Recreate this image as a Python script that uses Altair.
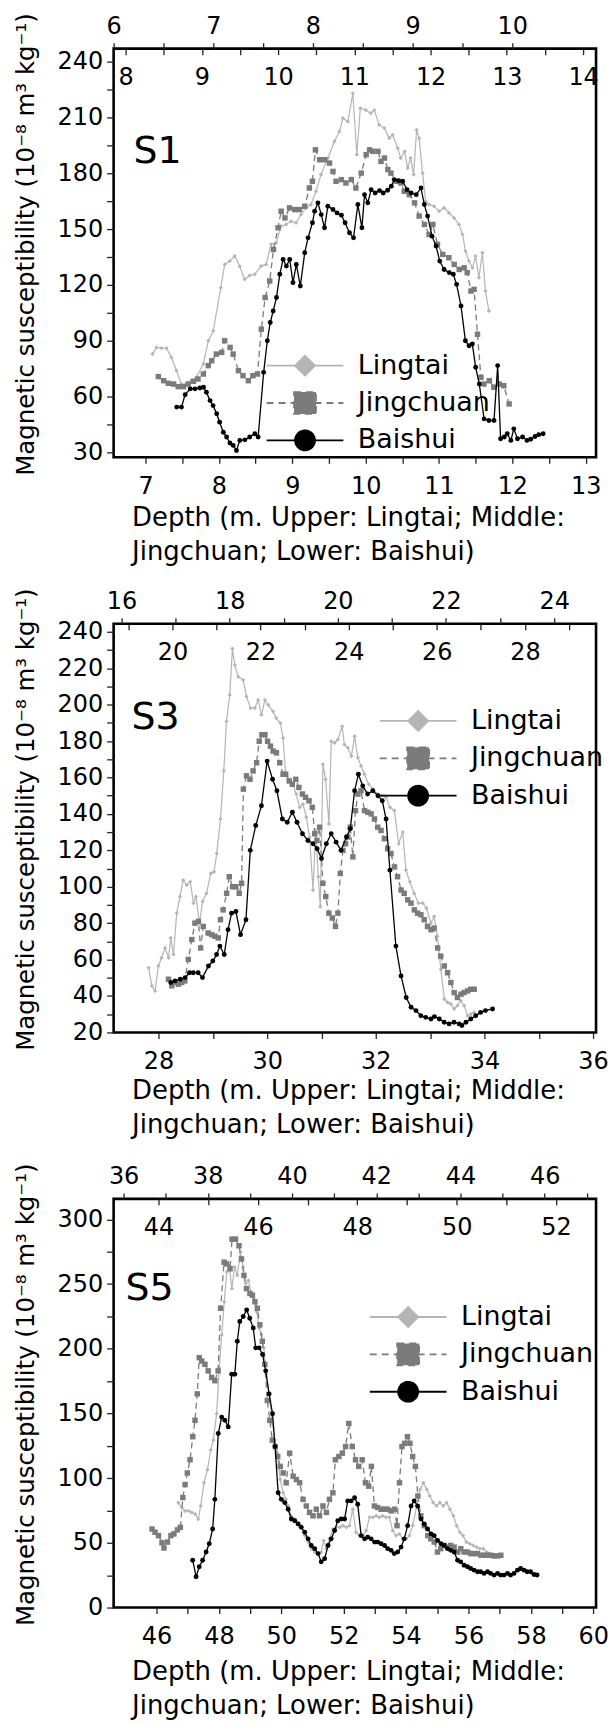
import altair as alt
import pandas as pd

FONT = "DejaVu Sans"
SERIES = ["Lingtai", "Jingchuan", "Baishui"]
COLORS = ["#b5b5b5", "#7b7b7b", "#000000"]
YTITLE = "Magnetic susceptibility (10\u207b\u2078 m\u00b3 kg\u207b\u00b9)"
XTITLE = ["Depth (m. Upper: Lingtai; Middle:", "Jingchuan; Lower: Baishui)"]

# ---------------- S1 ----------------
s1_lingtai_depth = [6.39,6.43,6.48,6.53,6.58,6.63,6.68,6.73,6.78,6.83,6.90,6.95,7.00,7.075,7.115,7.165,7.215,7.265,7.315,7.365,7.415,7.48,7.53,7.58,7.63,7.68,7.73,7.78,7.83,7.88,7.93,7.98,8.03,8.08,8.15,8.215,8.265,8.30,8.35,8.40,8.44,8.475,8.53,8.58,8.615,8.665,8.715,8.765,8.80,8.85,8.88,8.92,8.95,8.98,9.01,9.04,9.065,9.10,9.13,9.165,9.215,9.265,9.315,9.365,9.415,9.465,9.50,9.53,9.565,9.60,9.63,9.665,9.70,9.73,9.765]
s1_lingtai_chi = [82.8,86.4,86,86,81,74,66.7,66.7,68.5,70.3,77.5,90,95.3,118.5,131,132.8,135.5,130,123,125,125.7,130.1,131,141.8,142.6,151.6,152.5,154.2,153.4,157.8,161.4,163.2,170.3,179.3,188.2,197.1,202.5,209.6,207.8,223,190,215,214,212.3,214,206,204.3,198.9,200.7,193.5,188.2,191.8,182.8,188.2,179.3,203.4,198.9,180.1,165,163.2,162.3,159.6,161.4,158.7,156,152.5,147.1,138.2,132.8,129.2,135.5,123.9,137.3,116.7,106]
s1_jingchuan_depth = [8.43,8.50,8.56,8.63,8.69,8.76,8.82,8.89,8.95,9.02,9.085,9.13,9.19,9.26,9.30,9.37,9.41,9.48,9.54,9.61,9.67,9.73,9.78,9.83,9.89,9.94,10.0,10.04,10.09,10.15,10.22,10.28,10.35,10.41,10.45,10.49,10.545,10.61,10.675,10.72,10.76,10.83,10.89,10.96,11.02,11.09,11.155,11.2,11.24,11.31,11.35,11.395,11.44,11.48,11.55,11.61,11.655,11.72,11.79,11.85,11.92,11.98,12.03,12.09,12.16,12.24,12.31,12.375,12.44,12.48,12.53,12.57,12.615,12.66,12.70,12.77,12.83,12.90,12.96,13.03]
s1_jingchuan_chi = [70.7,68.5,67.1,66.7,65.3,65.3,66.7,68.2,69.4,72.1,76.6,79.2,82.8,83.7,90,86.4,82.8,73.9,71.2,68.5,71.2,72.1,96.2,113.2,122.1,139.1,150.7,159.6,156,161.4,160.5,160.5,162.3,172.1,175.7,192.6,187.3,187.3,185.5,181,175.7,176.6,174.8,176.6,172.1,180.1,190,192.6,191.8,191.8,186.4,188.2,182,180.1,175.7,174.8,170.3,168.5,164.1,157,152.5,147.1,152.5,141.8,136.4,134.6,131,128.3,129.2,126.6,116.7,117.6,93.5,70.3,66.7,68.5,65,66.7,65.8,56]
s1_baishui_depth = [7.425,7.49,7.54,7.61,7.675,7.74,7.79,7.83,7.88,7.92,7.97,8.01,8.06,8.105,8.15,8.195,8.24,8.285,8.355,8.42,8.49,8.535,8.61,8.66,8.70,8.74,8.785,8.83,8.875,8.92,8.965,9.01,9.055,9.11,9.17,9.215,9.275,9.305,9.35,9.395,9.44,9.485,9.555,9.61,9.67,9.72,9.78,9.835,9.894,9.95,9.985,10.03,10.075,10.13,10.19,10.24,10.30,10.35,10.39,10.45,10.505,10.565,10.62,10.69,10.755,10.80,10.845,10.905,10.96,11.01,11.07,11.14,11.195,11.24,11.30,11.36,11.41,11.455,11.50,11.55,11.615,11.68,11.75,11.80,11.84,11.89,11.93,11.98,12.02,12.07,12.14,12.2,12.25,12.31,12.36,12.42]
s1_baishui_chi = [54.3,54.3,61,64.1,64.1,64.6,65,62.3,57.8,55.1,50.7,46.2,40.8,38.2,35,33.7,31,36.4,36.7,38.2,40,38.2,73,90,99.8,106,113.2,125.7,133.7,130.1,133.7,121.2,131,119.4,137.3,145.3,153.4,159.6,164.1,157.8,150.7,162.3,160.5,158.7,157.5,153.4,148,145.3,163.2,150.7,168.5,164.1,171.2,169.4,170.7,169.4,170.9,173,176.6,176,175.7,171.2,169.4,168.5,172.1,163.2,157,146.2,140.9,132.8,128.3,126.6,125.7,120.3,108.7,90,87.3,88.2,75.7,66.7,48,47.1,47.1,76.6,37.3,38.2,40,36.4,42.6,37.3,38.2,36.4,37,38.5,39.5,40]

# ---------------- S3 ----------------
s3_lingtai_depth = [16.50,16.56,16.62,16.68,16.74,16.805,16.87,16.91,16.96,17.02,17.08,17.14,17.205,17.27,17.33,17.376,17.44,17.50,17.57,17.65,17.71,17.76,17.83,17.89,17.94,18.00,18.05,18.095,18.157,18.25,18.31,18.385,18.465,18.525,18.587,18.65,18.71,18.80,18.86,18.937,18.986,19.036,19.097,19.17,19.23,19.294,19.355,19.417,19.478,19.54,19.59,19.638,19.675,19.724,19.773,19.835,19.878,19.94,20.0,20.08,20.12,20.185,20.25,20.31,20.37,20.43,20.49,20.57,20.65,20.74,20.82,20.89,20.965,21.045,21.125,21.2,21.26,21.33,21.41,21.49,21.57,21.64,21.72,21.78,21.84,21.905,21.97,22.03,22.09,22.15,22.21,22.275,22.336,22.4,22.46,22.52]
s3_lingtai_chi = [55.5,45.6,42.8,56.5,61,66.4,61,71.9,62.8,85.5,94.6,103.7,100.9,102.8,91,94.6,80,91.9,96.4,107.3,108.2,118.2,137.2,163.6,190.8,205.3,230.7,221.7,215.3,213.5,204.4,198.1,198.1,202.6,194.4,202.6,199.9,196.3,192.6,189.9,181.7,161.8,159,156.3,150.9,143.6,145.4,138.2,127.3,98.2,130.9,105.5,89.1,167.2,159,134.5,179.9,179,180.8,188.1,178.1,176.3,171.7,182.6,170.8,166.3,161.8,156.3,153.6,150.9,150,149.1,143.6,141.8,123.6,130,109.1,102.8,96.4,91,91,88.2,80,83.7,72.8,54.6,38.3,36.5,35.6,32.9,34.7,37.4,34.7,29.2,30.1,31]
s3_jingchuan_depth = [19.91,19.985,20.06,20.135,20.21,20.28,20.36,20.44,20.51,20.59,20.64,20.7,20.81,20.89,20.965,21.04,21.09,21.15,21.23,21.29,21.365,21.44,21.515,21.57,21.61,21.68,21.76,21.83,21.91,21.97,22.03,22.1,22.16,22.225,22.285,22.36,22.435,22.51,22.57,22.65,22.72,22.8,22.87,22.95,23.02,23.1,23.175,23.23,23.28,23.34,23.415,23.48,23.55,23.63,23.7,23.755,23.81,23.87,23.93,23.98,24.035,24.095,24.155,24.21,24.28,24.36,24.435,24.51,24.585,24.66,24.735,24.81,24.885,24.96,25.04,25.11,25.19,25.26,25.34,25.415,25.49,25.565,25.64,25.715,25.79,25.87,25.94,26.02,26.09,26.17,26.245,26.32,26.395,26.47,26.55,26.62,26.7,26.77,26.85]
s3_jingchuan_chi = [49.2,45.6,47.4,46.5,47.4,48.3,60.1,71,80,81,66.4,78.2,74.6,73.7,72.8,71.9,81.9,87.3,96.4,105.5,100,100,96.4,101.9,153.6,160.9,159,163.6,168.1,179.9,183.5,183.5,179.9,177.2,174.5,173.6,168.1,161.8,161.8,158.1,156.3,159,154.5,150.9,149.1,147.2,143.6,129.1,125.4,132.7,101.9,94.6,85.5,82.8,78.2,85.5,107.3,120,123.6,127.3,132.7,116.4,141.8,150.9,152.7,141.8,140.9,140,137.2,132.7,130.9,126.4,120.9,118.2,110.9,105.5,98.2,96.4,92.8,91,87.3,85.5,84.6,81.9,78.2,76.4,77.3,66.4,61.9,56.5,52.8,47.4,41.9,39.2,41,41.9,42.8,43.7,43.7]
s3_baishui_depth = [28.226,28.305,28.40,28.49,28.57,28.64,28.73,28.81,28.92,29.0,29.07,29.13,29.21,29.28,29.345,29.425,29.51,29.61,29.69,29.79,29.895,30.0,30.1,30.18,30.28,30.37,30.465,30.55,30.65,30.75,30.845,30.92,31.0,31.09,31.18,31.27,31.36,31.46,31.53,31.61,31.68,31.76,31.85,31.945,32.04,32.12,32.19,32.26,32.37,32.465,32.56,32.65,32.74,32.83,32.92,33.015,33.08,33.17,33.26,33.35,33.44,33.535,33.585,33.66,33.75,33.84,33.93,34.02,34.15]
s3_baishui_chi = [47.4,48.3,49.2,50.1,52.8,52.8,52.8,50.1,56.5,59.2,62.8,67.4,62.8,76.4,85.5,86.4,73.7,81.9,120,133.6,144.5,169,159,152.7,137.2,135.4,140.9,135.4,129.1,125.4,123.6,120.9,115.5,123.6,129.1,124.5,120,127.3,131.8,152.7,161.8,155.4,150.9,152.7,150,147.2,137.2,109.1,67.4,51,39.2,33.8,32,29.2,28.3,27.4,28.7,27.4,25.6,24.7,25.6,24.7,23.8,25.6,27.4,29.2,31,32,32.9]

# ---------------- S5 ----------------
s5_lingtai_depth = [37.3,37.38,37.46,37.54,37.62,37.7,37.775,37.83,37.91,37.99,38.07,38.13,38.21,38.27,38.33,38.39,38.45,38.51,38.57,38.635,38.70,38.775,38.84,38.9,38.966,39.03,39.09,39.16,39.22,39.27,39.33,39.39,39.47,39.535,39.59,39.65,39.72,39.79,39.85,39.91,39.98,40.06,40.14,40.22,40.3,40.38,40.46,40.54,40.615,40.69,40.75,40.81,40.89,40.97,41.05,41.13,41.21,41.29,41.365,41.44,41.52,41.6,41.68,41.76,41.84,41.92,42.0,42.075,42.15,42.23,42.31,42.39,42.47,42.55,42.63,42.71,42.785,42.865,42.96,43.04,43.12,43.2,43.27,43.35,43.43,43.51,43.59,43.67,43.75,43.83,43.91,43.985,44.06,44.14,44.22,44.3,44.38,44.46,44.54,44.62,44.69,44.77,44.85,44.93]
s5_lingtai_chi = [81.1,77.3,74.7,74.7,73.5,72.2,68.4,78.5,96.4,106.5,121.8,129.4,149.8,185.4,210.9,236.3,259.3,264.3,246.5,263.1,256.7,274.5,263.1,250.3,252.9,242.7,238.9,228.7,216,210.9,200.7,180.3,160,142.2,129.4,119.3,98.9,88.7,83.6,78.5,70.9,68.4,65.8,63.3,55.6,50.6,45.5,42.9,41.7,42.9,51.8,45.5,53.1,60.7,62,62,63.3,62,63.3,76,58.2,55.6,55.6,59.5,69.7,69.7,70.9,69.7,70.9,69.7,69.7,59.5,55.6,56.9,53.1,53.1,55.6,63.3,78.5,91.3,96.4,91.3,86.2,81.1,78.5,81.1,78.5,81.1,76,70.9,63.3,58.2,55.6,50.6,49.3,48,46.7,45.5,45.5,42.9,41.7,40.4,40.4,39.1]
s5_jingchuan_depth = [43.87,43.93,44.0,44.07,44.11,44.18,44.25,44.31,44.38,44.44,44.49,44.535,44.58,44.635,44.69,44.735,44.78,44.82,44.87,44.935,45.0,45.07,45.135,45.2,45.25,45.32,45.37,45.44,45.48,45.55,45.62,45.67,45.72,45.77,45.84,45.89,45.94,45.99,46.04,46.09,46.14,46.19,46.24,46.29,46.35,46.4,46.45,46.51,46.57,46.64,46.71,46.775,46.84,46.91,46.975,47.04,47.11,47.175,47.24,47.31,47.38,47.44,47.51,47.56,47.63,47.7,47.765,47.83,47.9,47.965,48.03,48.1,48.165,48.23,48.285,48.345,48.41,48.48,48.545,48.61,48.68,48.75,48.8,48.85,48.9,48.955,49.01,49.06,49.115,49.17,49.22,49.28,49.35,49.42,49.48,49.55,49.615,49.68,49.75,49.82,49.88,49.95,50.02,50.085,50.15,50.22,50.285,50.35,50.42,50.49,50.55,50.62,50.69,50.75,50.82,50.89]
s5_jingchuan_chi = [60.7,58.2,55.6,50,46,50.6,55.6,56.9,60,62,85,95,104,114.2,132,144.7,165.1,193.1,190.5,188,182.9,177.8,175.3,182.9,231.3,266.9,265.6,261.8,284.7,284.7,279.6,269.4,256.7,246.5,242.7,241.4,236.3,231.3,218.5,205.8,188,160,144.7,129.4,124.4,116.7,109.1,104,96.4,119.3,101.5,98.9,96.4,83.6,78.5,73.5,70.9,76,70.9,78.5,73.5,83.6,88.7,114.2,116.7,119.3,124.4,142.2,124.4,114.2,109.1,114.2,96.4,93.8,109.1,78.5,77.3,76,76,76,74.7,76,63.3,96.4,124.4,126.9,132,126.9,116.7,109.1,86.2,70.9,63.3,55.6,53.1,50.6,42.9,45.5,48,46.7,48,46.7,42.9,45.5,42.9,42.9,41.7,41.7,41.7,40.4,40.4,40.4,40.4,39.9,39.9,40.4]
s5_baishui_depth = [47.16,47.27,47.37,47.48,47.59,47.69,47.8,47.87,47.98,48.09,48.19,48.3,48.41,48.51,48.59,48.67,48.78,48.89,48.99,49.1,49.18,49.29,49.4,49.5,49.61,49.72,49.8,49.9,50.0,50.11,50.22,50.32,50.43,50.54,50.64,50.75,50.86,50.96,51.07,51.18,51.28,51.39,51.5,51.6,51.71,51.81,51.92,52.03,52.13,52.24,52.35,52.45,52.56,52.67,52.77,52.88,52.99,53.09,53.2,53.31,53.41,53.52,53.62,53.73,53.84,53.94,54.05,54.16,54.26,54.37,54.48,54.58,54.69,54.8,54.9,55.01,55.12,55.22,55.33,55.43,55.54,55.65,55.75,55.86,55.97,56.07,56.18,56.29,56.39,56.5,56.61,56.71,56.82,56.93,57.03,57.14,57.25,57.35,57.46,57.57,57.67,57.78,57.88,57.99,58.1,58.2]
s5_baishui_chi = [36.6,23.8,31.5,36.6,42.9,49.3,60.7,83.6,134.5,147.2,144.7,139.6,180.3,180.3,205.8,221.1,224.9,230,223.6,216,200.7,200.7,195.6,182.9,165.1,149.8,124.4,88.7,83.6,81.1,76,68.4,67.1,64.6,62,58.2,53.1,48,45.5,41.7,35.3,37.8,48,53.1,59.5,67.1,68.4,68.4,82.4,82.4,84.9,79.8,55.6,53.1,54.4,53.1,50.6,50.6,49.3,48,45.5,44.2,41.7,42.9,46.7,53.1,63.3,78.5,82.4,78.5,68.4,64.6,60.7,56.9,55.6,51.8,49.3,48,45.5,44.2,42.9,36.6,35.3,32.7,31.5,30.2,28.9,27.7,27.7,26.4,27.7,26.4,25.1,26.4,25.1,25.1,26.4,25.1,26.4,28.9,30.2,28.9,27.7,27.7,25.5,25.2]


def frame(depth, chi, name):
    return pd.DataFrame({"depth": depth, "chi": chi,
                         "idx": list(range(len(depth))), "series": name})


def frange(a, b, s):
    out, v = [], a
    while v <= b + 1e-9:
        out.append(round(v, 3))
        v += s
    return out


# legend symbols: a stroke with the marker in its middle
P_L = "M-3.85,0L3.85,0M0,-1L1,0L0,1L-1,0Z"
P_J = "M-3.85,0L3.85,0M-1.1,-1.1L1.1,-1.1L1.1,1.1L-1.1,1.1Z"
P_B = "M-3.85,0L3.85,0M1,0A1,1,0,1,1,-1,0A1,1,0,1,1,1,0Z"
DASHES = [[1, 0], [7, 5], [1, 0]]


def label_expr(step):
    return (f"abs(datum.value / {step} - round(datum.value / {step})) < 0.001"
            f" ? format(datum.value, 'd') : ''")


def panel(name, data, doms, ticks, steps, ydom, yticks, ystep_label,
          legend_xy, title_xy, xtitle_y):
    (Ld, Lv), (Jd, Jv), (Bd, Bv) = data
    yaxis = alt.Axis(values=yticks, labelExpr=label_expr(ystep_label), title=YTITLE,
                     grid=False, domain=False,
                     tickSize=7, labelPadding=4, titleX=-80, titleY=196,
                     titleAngle=270, titleBaseline="alphabetic", titleAlign="center",
                     titleFontSize=24.5)
    y = alt.Y("chi:Q", scale=alt.Scale(domain=ydom, nice=False, zero=False), axis=yaxis)

    top_axis = alt.Axis(orient="top", values=ticks[0], labelExpr=label_expr(steps[0]),
                        grid=False, domain=False,
                        tickSize=6, labelPadding=9.6, labelBaseline="alphabetic", title=None)
    mid_axis = alt.Axis(orient="top", offset=-6, values=ticks[1], labelExpr=label_expr(steps[1]),
                        grid=False, domain=False,
                        tickSize=6, labelPadding=-36, labelBaseline="alphabetic", title=None)
    bot_axis = alt.Axis(orient="bottom", values=ticks[2], labelExpr=label_expr(steps[2]),
                        grid=False, domain=False,
                        tickSize=6, labelPadding=30, labelBaseline="alphabetic",
                        title=XTITLE, titleX=18, titleY=xtitle_y, titleAlign="left",
                        titleBaseline="alphabetic", titleLineHeight=34, titleFontSize=26)

    def xenc(dom, axis):
        return alt.X("depth:Q", scale=alt.Scale(domain=dom, nice=False, zero=False), axis=axis)

    legend = alt.Legend(
        title=None, orient="none", legendX=legend_xy[0], legendY=legend_xy[1], padding=0,
        symbolSize=400, symbolStrokeWidth=1.8, symbolOpacity=1, labelFont=FONT,
        labelFontSize=27, labelColor="black", labelOffset=39.5, rowPadding=7.5)

    lay_l = alt.Chart(frame(Ld, Lv, "Lingtai")).mark_line(
        strokeWidth=1.2, color=COLORS[0],
        point=alt.OverlayMarkDef(shape="diamond", size=18, filled=True, color=COLORS[0], opacity=1)
    ).encode(x=xenc(doms[0], top_axis), y=y, order="idx:Q")
    lay_j = alt.Chart(frame(Jd, Jv, "Jingchuan")).mark_line(
        strokeWidth=1.3, color=COLORS[1], strokeDash=[6, 4],
        point=alt.OverlayMarkDef(shape="square", size=30, filled=True, color=COLORS[1], opacity=1)
    ).encode(x=xenc(doms[1], mid_axis), y=y, order="idx:Q")
    lay_b = alt.Chart(frame(Bd, Bv, "Baishui")).mark_line(
        strokeWidth=1.3, color=COLORS[2],
        point=alt.OverlayMarkDef(shape="circle", size=24, filled=True, color=COLORS[2], opacity=1)
    ).encode(x=xenc(doms[2], bot_axis), y=y, order="idx:Q")

    # legend carrier: no rows survive the filter, the legend comes from the scales
    lay_leg = alt.Chart(pd.DataFrame({"series": SERIES})).transform_filter("false").mark_point(
        filled=True, opacity=1
    ).encode(
        fill=alt.Fill("series:N", scale=alt.Scale(domain=SERIES, range=COLORS), legend=legend),
        stroke=alt.Stroke("series:N", scale=alt.Scale(domain=SERIES, range=COLORS), legend=legend),
        shape=alt.Shape("series:N", scale=alt.Scale(domain=SERIES, range=[P_L, P_J, P_B]), legend=legend),
        strokeDash=alt.StrokeDash("series:N", scale=alt.Scale(domain=SERIES, range=DASHES), legend=legend),
    )

    return alt.layer(lay_l, lay_j, lay_b, lay_leg).resolve_scale(x="independent").properties(
        width=484, height=410,
        title=alt.TitleParams(text=name, anchor="start", frame="group", orient="top",
                              offset=0, dx=title_xy[0], dy=title_xy[1], fontSize=38,
                              font=FONT, fontWeight="normal", color="black",
                              baseline="alphabetic"))


p1 = panel("S1",
           [(s1_lingtai_depth, s1_lingtai_chi), (s1_jingchuan_depth, s1_jingchuan_chi),
            (s1_baishui_depth, s1_baishui_chi)],
           doms=[[6.0, 10.84], [7.843, 14.17], [6.565, 13.141]],
           ticks=[frange(6, 10, 0.5), frange(8, 14, 0.5), frange(7, 13, 0.5)],
           steps=[1, 1, 1], ydom=[27.3, 247], yticks=frange(30, 240, 15), ystep_label=30,
           legend_xy=[178.5, 304.5], title_xy=[20, 189], xtitle_y=68.5)
p3 = panel("S3",
           [(s3_lingtai_depth, s3_lingtai_chi), (s3_jingchuan_depth, s3_jingchuan_chi),
            (s3_baishui_depth, s3_baishui_chi)],
           doms=[[15.853, 24.775], [18.665, 29.615], [27.174, 36.055]],
           ticks=[frange(16, 24, 1), frange(19, 29, 1), frange(28, 36, 1)],
           steps=[2, 2, 2], ydom=[20, 244.4], yticks=frange(20, 240, 10), ystep_label=20,
           legend_xy=[292, 84], title_xy=[18, 180], xtitle_y=66.5)
p5 = panel("S5",
           [(s5_lingtai_depth, s5_lingtai_chi), (s5_jingchuan_depth, s5_jingchuan_chi),
            (s5_baishui_depth, s5_baishui_chi)],
           doms=[[35.763, 47.219], [43.097, 52.806], [44.626, 60.089]],
           ticks=[frange(36, 47, 1), frange(44, 52, 1), frange(46, 60, 1)],
           steps=[2, 2, 2], ydom=[0, 315.8], yticks=frange(0, 300, 25), ystep_label=50,
           legend_xy=[282, 105], title_xy=[12, 176], xtitle_y=72.5)

chart = alt.vconcat(p1, p3, p5, spacing=167, bounds="flush").resolve_scale(
    fill="independent", stroke="independent", shape="independent", strokeDash="independent"
).resolve_legend(
    fill="independent", stroke="independent", shape="independent", strokeDash="independent"
).properties(
    padding={"left": 12, "top": 8, "right": 0, "bottom": 0}
).configure(background="white").configure_view(
    stroke="black", strokeWidth=2.6
).configure_axis(
    domain=False, grid=False, labelFont=FONT, labelFontSize=24, labelColor="black",
    tickColor="#222222", tickWidth=1.3, titleFont=FONT, titleFontSize=25,
    titleFontWeight="normal", titleColor="black", labelFlush=False, labelOverlap=False
)

chart.save("out.html", embed_options={"renderer": "svg", "actions": False})
